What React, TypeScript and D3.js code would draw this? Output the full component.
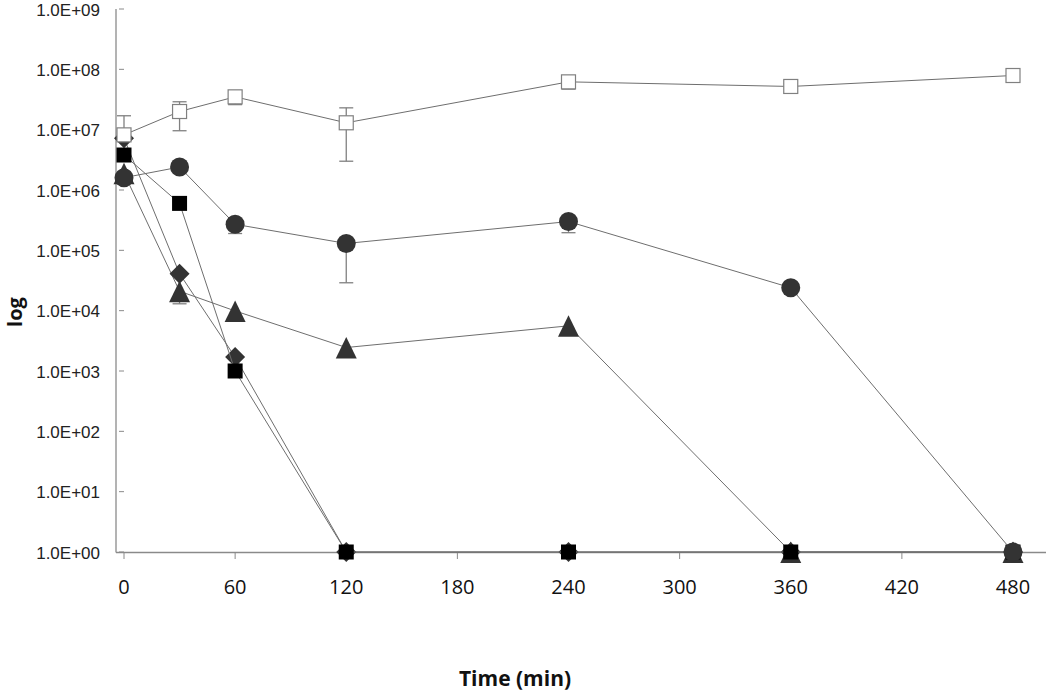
import React from "react";
import * as d3 from "d3";

const times = [0, 30, 60, 120, 240, 360, 480];
const xTicks = [0, 60, 120, 180, 240, 300, 360, 420, 480];
const yTicks = [1, 1e1, 1e2, 1e3, 1e4, 1e5, 1e6, 1e7, 1e8, 1e9];

const controlValues = [8.2e6, 2.0e7, 3.5e7, 1.3e7, 6.2e7, 5.2e7, 7.9e7];
const controlUpper = [1.7e7, 2.9e7, 4.4e7, 2.3e7, 6.8e7, 5.8e7, 8.1e7];
const controlLower = [null, 9.6e6, 2.6e7, 3.0e6, 4.7e7, 4.0e7, 6.3e7];

const circleValues = [1.6e6, 2.4e6, 2.7e5, 1.3e5, 3.0e5, 2.4e4, 1];
const circleUpper = [null, null, null, null, null, null, null];
const circleLower = [null, null, 1.9e5, 2.9e4, 1.96e5, null, null];

const squareValues = [3.8e6, 6.0e5, 1.0e3, 1, 1, 1, 1];
const diamondValues = [7.2e6, 4.1e4, 1.7e3, 1, 1, 1, 1];

const triangleValues = [1.9e6, 2.1e4, 9.9e3, 2.45e3, 5.6e3, 1, 1];
const triangleLower = [null, 1.3e4, null, null, null, null, null];

type Series = {
  name: string;
  values: number[];
  upper?: (number | null)[];
  lower?: (number | null)[];
  shape: "triangle" | "diamond" | "square" | "circle" | "open";
};

const series: Series[] = [
  { name: "triangle", values: triangleValues, lower: triangleLower, shape: "triangle" },
  { name: "diamond", values: diamondValues, shape: "diamond" },
  { name: "square", values: squareValues, shape: "square" },
  { name: "circle", values: circleValues, upper: circleUpper, lower: circleLower, shape: "circle" },
  { name: "control", values: controlValues, upper: controlUpper, lower: controlLower, shape: "open" },
];

const W = 1050;
const H = 691;

const x = d3.scaleLinear().domain([0, 480]).range([124, 1013]);
const y = d3.scaleLog().domain([1, 1e9]).range([552, 9]);
const Y0 = y(1) + 0.5;

const fmt = (v: number) => {
  const e = Math.round(Math.log10(v));
  return "1.0E+" + String(e).padStart(2, "0");
};

const lineGen = d3
  .line<[number, number]>()
  .x((d) => x(d[0]))
  .y((d) => y(d[1]));

function Marker({ shape, cx, cy }: { shape: Series["shape"]; cx: number; cy: number }) {
  const dark = "#333333";
  if (shape === "circle") return <circle cx={cx} cy={cy} r={9.5} fill={dark} />;
  if (shape === "square")
    return <rect x={cx - 7.5} y={cy - 7.5} width={15} height={15} fill="#000" />;
  if (shape === "open")
    return (
      <rect x={cx - 7} y={cy - 7} width={14} height={14} fill="#fff" stroke="#808080" strokeWidth={1.2} />
    );
  if (shape === "diamond")
    return (
      <path d={`M${cx},${cy - 10}L${cx + 10},${cy}L${cx},${cy + 10}L${cx - 10},${cy}Z`} fill={dark} />
    );
  return (
    <path d={`M${cx},${cy - 10.5}L${cx + 10.5},${cy + 11}L${cx - 10.5},${cy + 11}Z`} fill={dark} />
  );
}

export default function App() {
  const axisColor = "#8a8a8a";
  return (
    <svg
      width={W}
      height={H}
      style={{ position: "absolute", left: 0, top: 0, background: "#fff" }}
    >
      <rect x={0} y={0} width={W} height={H} fill="#fff" />
      {/* y axis */}
      <line x1={116} x2={116} y1={y(1e9)} y2={Y0} stroke={axisColor} strokeWidth={1.3} />
      {yTicks.map((t) => (
        <g key={t}>
          <line x1={119} x2={124} y1={y(t)} y2={y(t)} stroke={axisColor} strokeWidth={1} />
          <text
            x={100}
            y={y(t) + 1}
            textAnchor="end"
            dominantBaseline="central"
            fontFamily="'Liberation Sans', Arial, sans-serif"
            fontSize={17}
            fill="#222"
          >
            {fmt(t)}
          </text>
        </g>
      ))}
      {/* x axis */}
      <line x1={116} x2={1046} y1={Y0} y2={Y0} stroke={axisColor} strokeWidth={1.3} />
      {xTicks.map((t) => (
        <g key={t}>
          <line x1={x(t)} x2={x(t)} y1={Y0} y2={Y0 + 6.5} stroke={axisColor} strokeWidth={1} />
          <text
            x={x(t)}
            y={586}
            textAnchor="middle"
            dominantBaseline="central"
            fontFamily="'Open Sans', sans-serif"
            fontSize={20}
            fill="#111"
          >
            {t}
          </text>
        </g>
      ))}
      <text
        x={515}
        y={686}
        textAnchor="middle"
        fontFamily="'Open Sans', sans-serif"
        fontWeight="bold"
        fontSize={21}
        fill="#111"
      >
        Time (min)
      </text>
      <text
        transform="translate(22,312) rotate(-90)"
        textAnchor="middle"
        fontFamily="'Open Sans', sans-serif"
        fontWeight="bold"
        fontSize={20}
        fill="#111"
      >
        log
      </text>
      {/* series */}
      {series.map((s) => {
        const pts = times.map((t, i) => [t, s.values[i]] as [number, number]);
        return (
          <g key={s.name}>
            <path d={lineGen(pts) || ""} fill="none" stroke="#6e6e6e" strokeWidth={1} />
            {times.map((t, i) => {
              const cx = x(t);
              const cy = y(s.values[i]);
              const up = s.upper ? s.upper[i] : null;
              const lo = s.lower ? s.lower[i] : null;
              return (
                <g key={"e" + i}>
                  {up != null && (
                    <g>
                      <line x1={cx} x2={cx} y1={cy} y2={y(up)} stroke="#808080" strokeWidth={1.3} />
                      <line x1={cx - 7} x2={cx + 7} y1={y(up)} y2={y(up)} stroke="#808080" strokeWidth={1.3} />
                    </g>
                  )}
                  {lo != null && (
                    <g>
                      <line x1={cx} x2={cx} y1={cy} y2={y(lo)} stroke="#808080" strokeWidth={1.3} />
                      <line x1={cx - 7} x2={cx + 7} y1={y(lo)} y2={y(lo)} stroke="#808080" strokeWidth={1.3} />
                    </g>
                  )}
                </g>
              );
            })}
            {times.map((t, i) => (
              <Marker key={"m" + i} shape={s.shape} cx={x(t)} cy={y(s.values[i])} />
            ))}
          </g>
        );
      })}
    </svg>
  );
}
